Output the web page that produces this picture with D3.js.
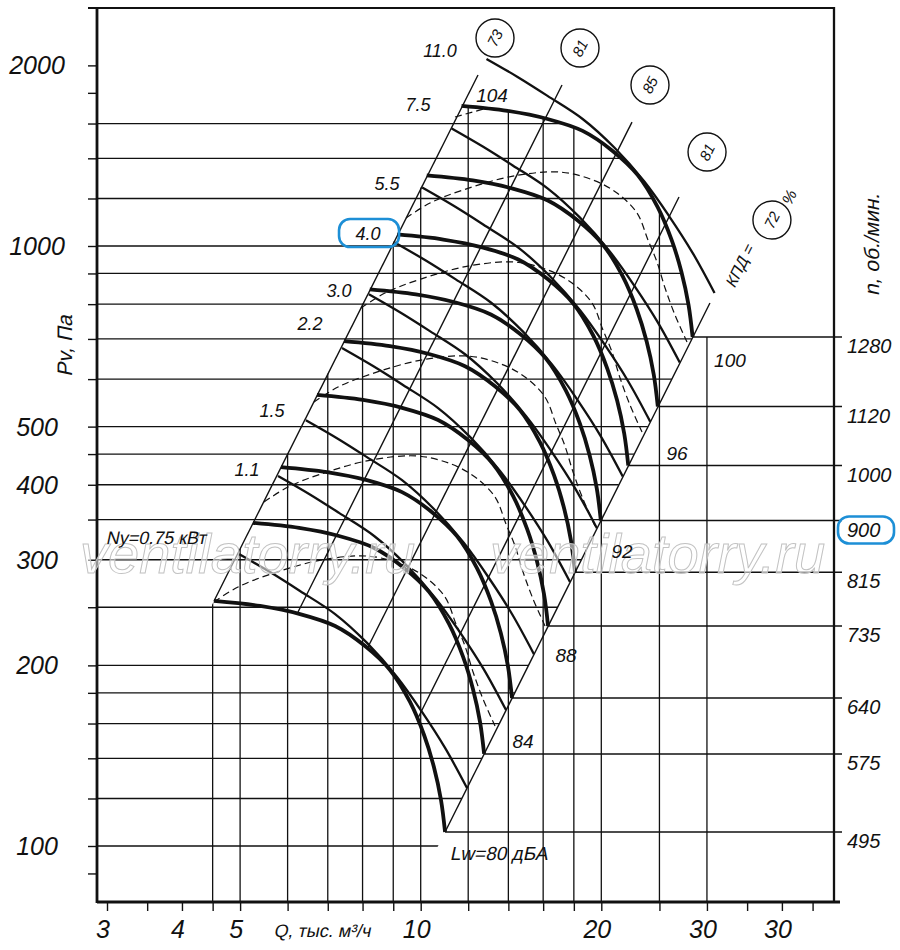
<!DOCTYPE html>
<html><head><meta charset="utf-8">
<script src="https://cdn.jsdelivr.net/npm/d3@7"></script>
<style>
body{margin:0;background:#fff;}
svg{display:block;}
text{font-family:"Liberation Sans",Arial,sans-serif;font-style:italic;fill:#111;}
text.up{font-style:normal;}
</style></head><body>
<svg id="chart" width="900" height="950"></svg>
<script>
// ---------------- DATA ----------------
const rpm = [495, 575, 640, 735, 815, 900, 1000, 1120, 1280];

// Pressure curves (thick), Q in thousand m3/h, P in Pa, one row per rpm
const curveQ = [
  [4.523,5.398,6.292,7.200,8.077,8.889,9.598,10.13,10.52,10.81,10.98],
  [5.254,6.270,7.309,8.364,9.382,10.326,11.149,11.767,12.220,12.557,12.755],
  [5.848,6.979,8.135,9.309,10.443,11.493,12.410,13.097,13.602,13.977,14.196],
  [6.716,8.015,9.343,10.691,11.993,13.199,14.252,15.042,15.621,16.051,16.303],
  [7.447,8.888,10.360,11.855,13.299,14.635,15.803,16.679,17.321,17.798,18.078],
  [8.224,9.815,11.440,13.091,14.685,16.162,17.451,18.418,19.127,19.655,19.964],
  [9.137,10.905,12.711,14.545,16.317,17.958,19.390,20.465,21.253,21.838,22.182],
  [10.234,12.214,14.237,16.291,18.275,20.113,21.717,22.920,23.803,24.459,24.844],
  [11.696,13.958,16.270,18.618,20.886,22.986,24.819,26.195,27.203,27.953,28.393]
];
const curveP = [
  [256.1,251.2,243.5,232.6,215.4,196.5,173.8,153.1,135.4,119.3,105.5],
  [345.6,339.0,328.6,313.9,290.7,265.2,234.5,206.6,182.7,161.0,142.4],
  [428.1,419.9,407.1,388.8,360.1,328.5,290.5,255.9,226.3,199.4,176.4],
  [564.6,553.8,536.9,512.8,474.9,433.2,383.2,337.6,298.5,263.0,232.6],
  [694.2,681.0,660.1,630.5,583.9,532.7,471.1,415.0,367.0,323.4,286.0],
  [846.6,830.4,805.0,768.9,712.1,649.6,574.5,506.1,447.6,394.4,348.8],
  [1045.2,1025.2,993.8,949.3,879.1,802.0,709.3,624.8,552.6,486.9,430.6],
  [1311.1,1286.0,1246.6,1190.8,1102.7,1006.0,889.8,783.8,693.2,610.8,540.1],
  [1712.5,1679.7,1628.2,1555.3,1440.3,1313.9,1162.1,1023.7,905.4,797.7,705.4]
];

// Secondary (thin) curves, one per rpm
const thinQ = [
  [4.978,5.609,6.292,7.200,8.138,9.131,10.05,10.98,11.945],
  [5.783,6.516,7.309,8.364,9.453,10.607,11.674,12.755,13.875],
  [6.436,7.252,8.135,9.309,10.522,11.806,12.994,14.196,15.444],
  [7.392,8.329,9.343,10.691,12.084,13.558,14.923,16.303,17.737],
  [8.196,9.235,10.360,11.855,13.399,15.034,16.547,18.078,19.667],
  [9.051,10.198,11.440,13.091,14.796,16.602,18.273,19.964,21.718],
  [10.057,11.331,12.711,14.545,16.440,18.447,20.303,22.182,24.131],
  [11.263,12.691,14.237,16.291,18.413,20.660,22.739,24.844,27.027],
  [12.872,14.504,16.270,18.618,21.044,23.612,25.988,28.393,30.888]
];
const thinP = [
  [306.6,286.1,266.1,243.5,218.0,191.3,167.3,145.7,124.9],
  [413.7,386.1,359.1,328.6,294.2,258.1,225.7,196.6,168.5],
  [512.5,478.3,444.8,407.1,364.4,319.8,279.7,243.6,208.8],
  [676.0,630.8,586.7,536.9,480.6,421.8,368.9,321.2,275.4],
  [831.1,775.6,721.4,660.1,591.0,518.6,453.5,395.0,338.6],
  [1013.6,945.8,879.7,805.0,720.7,632.4,553.1,481.7,412.9],
  [1251.3,1167.7,1086.0,993.8,889.7,780.7,682.8,594.6,509.7],
  [1569.6,1464.7,1362.3,1246.6,1116.0,979.4,856.5,745.9,639.4],
  [2050.1,1913.1,1779.3,1628.2,1457.7,1279.2,1118.7,974.2,835.2]
];

// Dashed arcs
const dashQ = [
  [4.524,4.960,5.630,6.820,8.168,9.273,10.166,10.977,11.450,11.853,12.225,12.701,13.300],
  [5.481,6.010,6.821,8.264,9.897,11.236,12.318,13.300,13.874,14.362,14.812,15.389,16.115],
  [6.640,7.280,8.264,10.011,11.990,13.611,14.923,16.112,16.807,17.398,17.944,18.643,19.522],
  [7.953,8.719,9.897,11.990,14.360,16.302,17.873,19.298,20.130,20.838,21.492,22.329,23.382],
  [9.452,10.363,11.763,14.250,17.067,19.375,21.242,22.935,23.924,24.766,25.543,26.538,27.789],
  [11.407,12.898]
];
const dashP = [
  [255.1,270.2,284.0,299.6,304.2,295.1,280.8,260.0,234.4,215.4,195.0,175.8,158.5],
  [374.4,396.6,416.9,439.8,446.6,433.2,412.1,381.7,344.1,316.3,286.2,258.1,232.7],
  [549.5,582.0,611.8,645.4,655.4,635.7,604.8,560.1,505.0,464.1,420.0,378.7,341.4],
  [788.2,834.9,877.6,925.7,940.1,911.9,867.5,803.5,724.4,665.7,602.5,543.2,489.7],
  [1113.4,1179.4,1239.7,1307.7,1328.0,1288.2,1225.5,1135.0,1023.3,940.4,851.1,767.4,691.8],
  [1640.6,1698.2]
];

// Efficiency (system) lines: bottom/top ends
const effLabels = ["73", "81", "85", "81", "72"];
const effQ = [[4.523,12.46],[6.244,17.20],[8.138,22.50],[9.859,26.95],[10.98,30.35]];
const effP = [[256.1,1927.5],[245.5,1854.6],[213.0,1608.8],[162.2,1207.1],[105.5,803.5]];

const powerLabels = ["Ny=0.75 кВт","1.1","1.5","2.2","3.0","4.0","5.5","7.5","11.0"];
const lwLabels = ["Lw=80 дБА","84","88","92","96","100","104"];

const gridP = [100,120,140,160,180,200,250,300,350,400,450,500,600,700,800,900,1000,1200,1400,1600];
const tickP = [90,100,120,140,160,180,200,250,300,350,400,450,500,600,700,800,900,1000,1200,1400,1600,1800,2000];
const labelP = [100,200,300,400,500,1000,2000];
const gridQ = [4.5,5,6,7,8,9,10,12,14,16,18,20,25,30];
const tickQ = [3,3.5,4,4.5,5,6,7,8,9,10,12,14,16,18,20,25,30,35,40,45];
const labelQ = [3,4,5,10,20,30,40];
const labelQText = ["3","4","5","10","20","30","30"];

// ---------------- LAYOUT ----------------
const L = 97, R = 834, T = 8, B = 902;
const SKEW = -12;
const anchors = {
  power: [[3.635,327.3],[5.133,423.3],[5.652,532.8],[6.540,744],[7.308,844.5],[8.170,1051],[8.787,1269],[9.897,1718],[10.77,2121]],
  lw: [[13.56,97.3],[14.81,149.6],[17.47,208.1],[21.65,310.1],[26.75,451.9],[32.77,645.7],[13.15,1785]],
  eff: [[13.30,2222],[18.43,2138],[24.11,1855],[30.01,1434],[38.50,1105]],
  kpd: [34.05,929.7],
  pct: [41.11,1207]
};
const hasCyr = s => /[\u0400-\u04FF]/.test(s);

const svg = d3.select("#chart");
const x = d3.scaleLog().domain([10, 20]).range([420.7, 601.3]);
const y = d3.scaleLog().domain([100, 1000]).range([846, 246]);
const pts = (qs, ps) => qs.map((q, i) => [x(q), y(ps[i])]);
const smooth = d3.line().curve(d3.curveCatmullRom.alpha(0.5));
const straight = d3.line();

// helper: label placed via transform; Cyrillic strings use an upright face slanted by skew
function label(parent, px, py, str, opts) {
  const o = Object.assign({ size: 18, anchor: "middle", rotate: 0, dy: "0.36em" }, opts || {});
  const cyr = hasCyr(str);
  let tr = `translate(${px},${py})`;
  if (o.rotate) tr += ` rotate(${o.rotate})`;
  if (cyr) tr += ` skewX(${SKEW})`;
  return parent.append("text").attr("class", cyr ? "up" : null).attr("transform", tr)
    .attr("text-anchor", o.anchor).attr("dy", o.dy).attr("font-size", o.size).text(str);
}

// clip regions
const topCurve = pts(curveQ[8], curveP[8]);
const e72 = pts(effQ[4], effP[4]);
const e73 = pts(effQ[0], effP[0]);
const ext = (a, b, t) => [a[0] + (a[0] - b[0]) * t, a[1] + (a[1] - b[1]) * t];
const e72ext = ext(e72[0], e72[1], 0.16);
const t73 = (e73[0][0] - L) / (e73[1][0] - e73[0][0]);
const e73ext = ext(e73[0], e73[1], t73);
const hPoly = [[L - 1, e72ext[1]], [L - 1, topCurve[0][1] - 2], ...topCurve, e72[0], e72ext];
const vPoly = [[L - 2, B + 2], e73ext, e73[0], ...topCurve, [R + 12, topCurve[topCurve.length - 1][1]], [R + 12, B + 2]];
const defs = svg.append("defs");
defs.append("clipPath").attr("id", "hclip").append("path").attr("d", straight(hPoly) + "Z");
defs.append("clipPath").attr("id", "vclip").append("path").attr("d", straight(vPoly) + "Z");

// grid
const grid = svg.append("g").attr("stroke", "#111").attr("stroke-width", 1.3);
grid.append("g").attr("clip-path", "url(#hclip)").selectAll("line").data(gridP).join("line")
  .attr("x1", L).attr("x2", R).attr("y1", d => y(d)).attr("y2", d => y(d));
grid.append("g").attr("clip-path", "url(#vclip)").selectAll("line").data(gridQ).join("line")
  .attr("x1", d => x(d)).attr("x2", d => x(d)).attr("y1", B).attr("y2", T);

// rpm lines
svg.append("g").attr("stroke", "#111").attr("stroke-width", 1.5).selectAll("line").data(rpm).join("line")
  .attr("x1", (d, i) => x(curveQ[i][curveQ[i].length - 1]))
  .attr("x2", R + 8)
  .attr("y1", (d, i) => y(curveP[i][curveP[i].length - 1]))
  .attr("y2", (d, i) => y(curveP[i][curveP[i].length - 1]));

// efficiency lines
svg.append("g").attr("stroke", "#111").attr("stroke-width", 1.4).attr("fill", "none")
  .selectAll("path").data(effQ).join("path")
  .attr("d", (d, i) => straight(pts(effQ[i], effP[i])));

// dashed arcs
svg.append("g").attr("stroke", "#111").attr("stroke-width", 1.2).attr("fill", "none")
  .attr("stroke-dasharray", "7,4")
  .selectAll("path").data(dashQ).join("path")
  .attr("d", (d, i) => smooth(pts(dashQ[i], dashP[i])));

// thin curves
svg.append("g").attr("stroke", "#111").attr("stroke-width", 2.3).attr("fill", "none")
  .selectAll("path").data(thinQ).join("path")
  .attr("d", (d, i) => smooth(pts(thinQ[i], thinP[i])));

// thick curves
svg.append("g").attr("stroke", "#111").attr("stroke-width", 3.8).attr("fill", "none")
  .selectAll("path").data(curveQ).join("path")
  .attr("d", (d, i) => smooth(pts(curveQ[i], curveP[i])));

// axes ticks
const axL = svg.append("g").attr("transform", `translate(${L},0)`)
  .call(d3.axisLeft(y).tickValues(tickP).tickSize(9).tickFormat(() => ""));
const axB = svg.append("g").attr("transform", `translate(0,${B})`)
  .call(d3.axisBottom(x).tickValues(tickQ).tickSize(9).tickFormat(() => ""));
[axL, axB].forEach(a => { a.select(".domain").remove(); a.selectAll("line").attr("stroke", "#111").attr("stroke-width", 1.4); });

// frame
const frame = svg.append("g").attr("stroke", "#111");
frame.append("line").attr("x1", L).attr("x2", L).attr("y1", T - 1).attr("y2", B + 1).attr("stroke-width", 2.8);
frame.append("line").attr("x1", L - 9).attr("x2", R + 1).attr("y1", T).attr("y2", T).attr("stroke-width", 2.2);
frame.append("line").attr("x1", R).attr("x2", R).attr("y1", T - 1).attr("y2", B + 1).attr("stroke-width", 2.3);
frame.append("line").attr("x1", L).attr("x2", R + 6).attr("y1", B).attr("y2", B).attr("stroke-width", 2.8);

// watermark (behind labels)
svg.append("g").selectAll("text").data(["ventilatorry.ru", "ventilatorry.ru"]).join("text")
  .attr("x", (d, i) => i === 0 ? 80 : 490).attr("y", 573)
  .attr("font-size", 56)
  .style("fill", "rgba(255,255,255,0.55)").attr("stroke", "#c2c2c2").attr("stroke-width", 1)
  .text(d => d);

const tg = svg.append("g");
// axis labels
labelP.forEach(p => label(tg, 37, y(p), String(p), { size: 25 }));
labelQ.forEach((q, i) => label(tg, x(q) - 4, 938, labelQText[i], { size: 25, dy: 0 }));
label(tg, 322, 937, "Q, тыс. м³/ч", { size: 18, dy: 0 });
label(tg, 72, 346, "Pv, Па", { size: 21, rotate: -90, dy: 0 });
label(tg, 879, 245, "n,  об./мин.", { size: 21, rotate: -90, dy: 0 });

// rpm labels
rpm.forEach((n, i) => label(tg, R + 13, y(curveP[i][curveP[i].length - 1]) + 9, String(n), { size: 20, anchor: "start" }));

// power labels
powerLabels.forEach((s, i) => label(tg, x(anchors.power[i][0]), y(anchors.power[i][1]), s, { size: 18 }));

// Lw labels
lwLabels.forEach((s, i) => label(tg, x(anchors.lw[i][0]), y(anchors.lw[i][1]), s, { size: 19 }));

// efficiency circles
const ang = -63.4;
const effG = svg.append("g").selectAll("g").data(effLabels).join("g")
  .attr("transform", (d, i) => `translate(${x(anchors.eff[i][0])},${y(anchors.eff[i][1])})`);
effG.append("circle").attr("r", 19).attr("fill", "#fff").attr("stroke", "#111").attr("stroke-width", 1.4);
effG.append("text").attr("transform", `rotate(${ang})`).attr("text-anchor", "middle").attr("dy", "0.36em")
  .attr("font-size", 15).text(d => d);
label(tg, x(anchors.kpd[0]), y(anchors.kpd[1]), "КПД =", { size: 16, rotate: ang });
label(tg, x(anchors.pct[0]), y(anchors.pct[1]), "%", { size: 16, rotate: ang });

// highlight boxes
const hl = svg.append("g").attr("fill", "none").attr("stroke", "#1d8fd6").attr("stroke-width", 2.6);
hl.append("rect").attr("x", x(anchors.power[5][0]) - 29).attr("y", y(anchors.power[5][1]) - 14)
  .attr("width", 60).attr("height", 28).attr("rx", 11);
hl.append("rect").attr("x", R + 4).attr("y", y(curveP[5][curveP[5].length - 1]) - 4)
  .attr("width", 56).attr("height", 27).attr("rx", 11);
</script>
</body></html>
